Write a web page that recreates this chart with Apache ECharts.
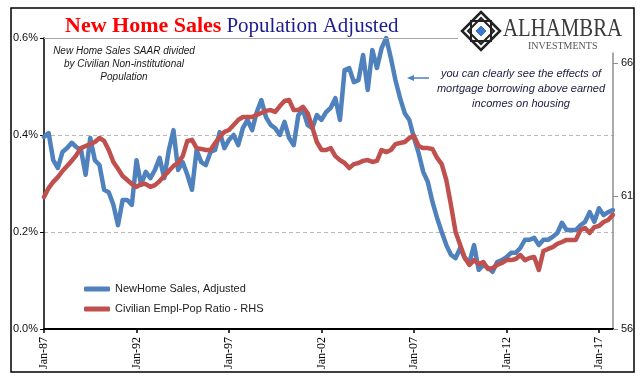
<!DOCTYPE html>
<html><head><meta charset="utf-8">
<script src="https://cdn.jsdelivr.net/npm/echarts@6/dist/echarts.min.js"></script>
<style>html,body{margin:0;padding:0;background:#fff}#c{width:641px;height:381px}</style>
</head><body><div id="c"></div>
<script>
// quarterly observations starting Jan-1987
const startYear = 1987;
const stepYears = 0.25;
const xTickYears = [1987, 1992, 1997, 2002, 2007, 2012, 2017];
const xTickLabels = ['Jan-87', 'Jan-92', 'Jan-97', 'Jan-02', 'Jan-07', 'Jan-12', 'Jan-17'];
const leftTickLabels = ['0.0%', '0.2%', '0.4%', '0.6%'];
const rightTicks = [56, 61, 66];
const seriesNames = ['NewHome Sales, Adjusted', 'Civilian Empl-Pop Ratio - RHS'];

// New home sales SAAR / civilian non-institutional population, in %
const newHomeSales = [
  0.396, 0.404, 0.348, 0.332, 0.365, 0.373, 0.384, 0.375, 0.369, 0.318,
  0.394, 0.348, 0.338, 0.287, 0.282, 0.256, 0.214, 0.266, 0.266, 0.256,
  0.348, 0.297, 0.324, 0.311, 0.328, 0.353, 0.311, 0.369, 0.410, 0.328,
  0.344, 0.318, 0.287, 0.369, 0.344, 0.338, 0.365, 0.369, 0.406, 0.373,
  0.390, 0.400, 0.379, 0.414, 0.431, 0.410, 0.447, 0.472, 0.437, 0.421,
  0.414, 0.400, 0.427, 0.394, 0.379, 0.441, 0.452, 0.421, 0.414, 0.441,
  0.431, 0.447, 0.456, 0.476, 0.431, 0.534, 0.538, 0.509, 0.513, 0.565,
  0.493, 0.575, 0.538, 0.579, 0.600, 0.559, 0.513, 0.476, 0.445, 0.431,
  0.394, 0.363, 0.324, 0.303, 0.262, 0.229, 0.200, 0.173, 0.153, 0.146,
  0.167, 0.146, 0.138, 0.173, 0.122, 0.132, 0.126, 0.118, 0.138, 0.142,
  0.148, 0.157, 0.157, 0.167, 0.184, 0.184, 0.188, 0.173, 0.184, 0.184,
  0.190, 0.198, 0.219, 0.204, 0.204, 0.204, 0.214, 0.221, 0.241, 0.221,
  0.249, 0.235, 0.241, 0.245
];

// Civilian employment-population ratio (RHS)
const empPopRatio = [
  60.96, 61.30, 61.53, 61.71, 61.94, 62.13, 62.32, 62.54, 62.80, 62.88,
  62.95, 63.03, 63.18, 63.07, 62.73, 62.28, 62.02, 61.75, 61.60, 61.45,
  61.34, 61.45, 61.45, 61.34, 61.41, 61.56, 61.75, 61.94, 62.13, 62.24,
  62.50, 63.07, 63.11, 62.80, 62.77, 62.73, 62.73, 62.99, 63.22, 63.41,
  63.48, 63.67, 63.86, 63.97, 63.97, 63.97, 64.05, 64.12, 64.20, 64.23,
  64.16, 64.38, 64.57, 64.61, 64.23, 64.23, 64.35, 64.12, 63.59, 63.03,
  62.73, 62.73, 62.80, 62.50, 62.35, 62.24, 62.05, 62.20, 62.24, 62.32,
  62.35, 62.28, 62.32, 62.73, 62.65, 62.73, 62.95, 62.99, 63.03, 63.18,
  63.26, 62.88, 62.80, 62.80, 62.77, 62.43, 62.20, 61.60, 60.66, 59.65,
  59.16, 58.67, 58.41, 58.59, 58.44, 58.52, 58.26, 58.29, 58.41, 58.48,
  58.59, 58.59, 58.63, 58.78, 58.59, 58.67, 58.71, 58.22, 58.93, 59.01,
  59.08, 59.20, 59.27, 59.35, 59.35, 59.35, 59.72, 59.80, 59.61, 59.83,
  59.87, 60.02, 60.10, 60.29
];

const xMin = 1987, xMax = 2017.76;
const blueData = newHomeSales.map((v, i) => [startYear + i * stepYears, v]);
const redData = empPopRatio.map((v, i) => [startYear + i * stepYears, v]);

const SANS = '"Liberation Sans", Arial, sans-serif';
const SERIF = '"Liberation Serif", "Times New Roman", serif';
const BLUE = '#4F81BD', RED = '#C0504D';

const chart = echarts.init(document.getElementById('c'), null, {renderer: 'canvas'});
chart.setOption({
  animation: false,
  backgroundColor: '#fff',
  title: {
    text: '{a|New Home Sales} {b|Population Adjusted}',
    left: 60, top: 10,
    textStyle: {
      rich: {
        a: {fontFamily: SERIF, fontWeight: 'bold', fontSize: 22, color: '#FF0000'},
        b: {fontFamily: SERIF, fontWeight: 'normal', fontSize: 21, color: '#1c1c8c'}
      }
    }
  },
  legend: {
    orient: 'vertical', left: 79, top: 277,
    itemWidth: 26, itemHeight: 5, itemGap: 6,
    icon: 'roundRect',
    data: seriesNames,
    textStyle: {fontFamily: SANS, fontSize: 11, color: '#222', lineHeight: 14}
  },
  grid: [
    {left: 44, right: 28, top: 38, bottom: 52, containLabel: false},
    {left: 44, right: 28, top: 53, bottom: 52, containLabel: false}
  ],
  xAxis: [
    {
      gridIndex: 0, type: 'value', min: xMin, max: xMax, interval: 5,
      axisLine: {show: true, lineStyle: {color: '#000', width: 2}},
      axisTick: {show: true, length: 4, lineStyle: {color: '#000', width: 1.5}, customValues: xTickYears},
      axisLabel: {
        customValues: xTickYears, rotate: 90, margin: 8,
        fontFamily: SERIF, fontSize: 12, color: '#000',
        formatter: v => xTickLabels[xTickYears.indexOf(Math.round(v))] || ''
      },
      splitLine: {show: false}
    },
    {gridIndex: 1, type: 'value', min: xMin, max: xMax, show: false}
  ],
  yAxis: [
    {
      gridIndex: 0, type: 'value', min: 0, max: 0.6, interval: 0.2, position: 'left',
      axisLine: {show: true, lineStyle: {color: '#000', width: 1.5}},
      axisTick: {show: true, length: 4, lineStyle: {color: '#000'}},
      axisLabel: {
        margin: 6, fontFamily: SANS, fontSize: 11, color: '#111',
        formatter: v => leftTickLabels[Math.round(v / 0.2)]
      },
      splitLine: {show: true, showMinLine: false, showMaxLine: false,
        lineStyle: {color: '#B8B8B8', type: [4, 3], width: 1}}
    },
    {
      gridIndex: 1, type: 'value', min: 56, max: 66.376, interval: 5, position: 'right',
      axisLine: {show: true, lineStyle: {color: '#8C8C8C', width: 1.5}},
      axisTick: {show: true, length: 5, customValues: rightTicks, lineStyle: {color: '#8C8C8C'}},
      axisLabel: {customValues: rightTicks, margin: 8, fontFamily: SANS, fontSize: 11, color: '#111'},
      splitLine: {show: false}
    }
  ],
  series: [
    {
      name: seriesNames[0], type: 'line', xAxisIndex: 0, yAxisIndex: 0,
      data: blueData, showSymbol: false, clip: false,
      color: BLUE,
      lineStyle: {color: BLUE, width: 4.5, join: 'round', cap: 'round'},
      markLine: {
        silent: true, symbol: 'none', label: {show: false},
        lineStyle: {color: '#A6A6A6', type: 'solid', width: 1.2},
        data: [{yAxis: 0.6}]
      },
      z: 3
    },
    {
      name: seriesNames[1], type: 'line', xAxisIndex: 1, yAxisIndex: 1,
      data: redData, showSymbol: false, clip: false,
      color: RED,
      lineStyle: {color: RED, width: 4.5, join: 'round', cap: 'round'},
      z: 4
    }
  ],
  graphic: [
    {type: 'rect', z: 1, shape: {x: 11, y: 8, width: 623, height: 364},
      style: {fill: 'none', stroke: '#000', lineWidth: 1.5}},
    // logo
    {type: 'rect', z: 100, shape: {x: 458, y: 9, width: 172, height: 42}, style: {fill: '#fff'}},
    {type: 'polygon', z: 101, shape: {points: [[481, 12], [500, 31], [481, 50], [462, 31]]},
      style: {fill: 'none', stroke: '#222', lineWidth: 2.5}},
    {type: 'polygon', z: 101, shape: {points: [[481, 18], [494, 31], [481, 44], [468, 31]]},
      style: {fill: 'none', stroke: '#222', lineWidth: 2}},
    {type: 'rect', z: 101, shape: {x: 471, y: 21, width: 20, height: 20},
      style: {fill: 'none', stroke: '#222', lineWidth: 2}},
    {type: 'polygon', z: 102, shape: {points: [[481, 25], [487, 31], [481, 37], [475, 31]]},
      style: {fill: '#3A78C9', stroke: '#fff', lineWidth: 1}},
    {type: 'text', z: 101, x: 503, y: 16, scaleX: 0.8,
      style: {text: 'ALHAMBRA', font: '26px "Liberation Serif", serif', fill: '#3b3b3b'}},
    {type: 'text', z: 101, x: 528, y: 41,
      style: {text: 'INVESTMENTS', font: '10px "Liberation Serif", serif', fill: '#555'}},
    // annotations
    {type: 'text', z: 50, x: 124, y: 45,
      style: {text: 'New Home Sales SAAR divided\nby Civilian Non-institutional\nPopulation',
        font: 'italic 10px "Liberation Sans", sans-serif', fill: '#1a1a1a', align: 'center', lineHeight: 13}},
    {type: 'text', z: 50, x: 521, y: 66,
      style: {text: 'you can clearly see the effects of\nmortgage borrowing above earned\nincomes on housing',
        font: 'italic 11px "Liberation Sans", sans-serif', fill: '#1a1a40', align: 'center', lineHeight: 15}},
    {type: 'line', z: 50, shape: {x1: 412, y1: 78, x2: 429, y2: 78}, style: {stroke: BLUE, lineWidth: 1.5}},
    {type: 'polygon', z: 50, shape: {points: [[407, 78], [414, 75], [414, 81]]}, style: {fill: BLUE}}
  ]
});
</script></body></html>
